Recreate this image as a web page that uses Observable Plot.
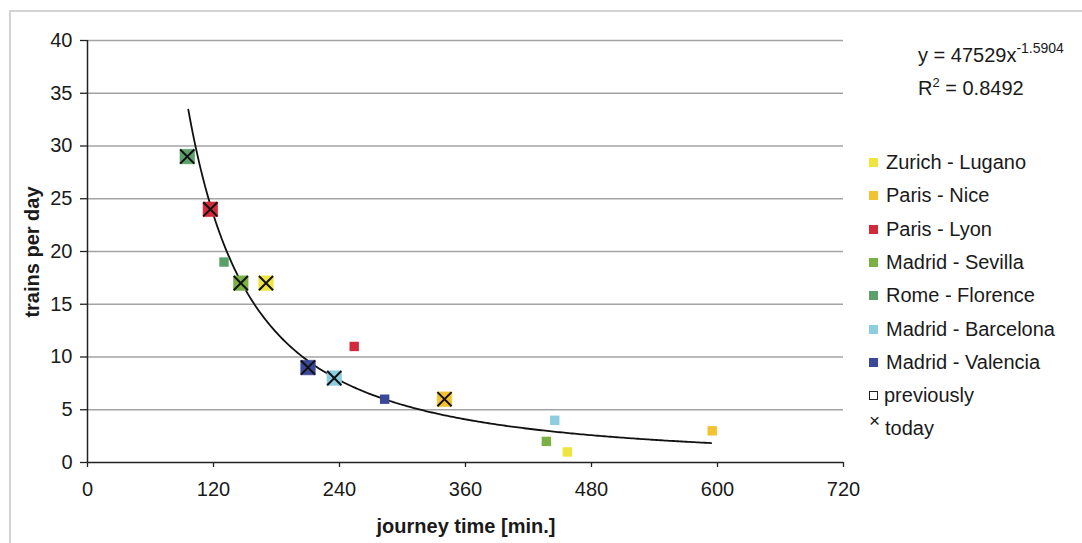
<!DOCTYPE html>
<html>
<head>
<meta charset="utf-8">
<script src="https://cdn.jsdelivr.net/npm/d3@7"></script>
<script src="https://cdn.jsdelivr.net/npm/@observablehq/plot@0.6"></script>
<style>
  html, body { margin: 0; padding: 0; background: #fff; }
  #wrap { position: relative; width: 1082px; height: 543px; overflow: hidden; font-family: "Liberation Sans", Arial, sans-serif; color: #1a1a1a; }
  #frame { position: absolute; left: 9px; top: 10px; width: 1100px; height: 560px; border: 2px solid #d4d4d4; box-sizing: border-box; }
  #chart { position: absolute; left: 0; top: 0; }
  .abs { position: absolute; white-space: nowrap; }
  .leg { position: absolute; left: 869px; font-size: 20px; line-height: 1; }
  .sw { position: absolute; left: 0; width: 9px; height: 9px; }
</style>
</head>
<body>
<div id="wrap">
  <div id="frame"></div>
  <div id="chart"></div>
</div>
<script>
// ---- data ----
const routes = ["Zurich - Lugano", "Paris - Nice", "Paris - Lyon", "Madrid - Sevilla", "Rome - Florence", "Madrid - Barcelona", "Madrid - Valencia"];
const routeColors = ["#eee53f", "#f2c230", "#d22a3a", "#7bb143", "#5b9f6b", "#8dcde0", "#3b4797"];
const previousTime = [457, 595, 254, 437, 130, 445, 283];
const previousTrains = [1, 3, 11, 2, 19, 4, 6];
const todayTime = [170, 340, 117, 146, 95, 235, 210];
const todayTrains = [17, 6, 24, 17, 29, 8, 9];
const xTicks = [0, 120, 240, 360, 480, 600, 720];
const yTicks = [0, 5, 10, 15, 20, 25, 30, 35, 40];
// power trendline as printed on the chart: y = a * x^b
const trendA = 47529;
const trendB = -1.5904;
const trendRange = [96, 595];
const trendR2 = 0.8492;

const previous = routes.map((r, i) => ({route: r, time: previousTime[i], trains: previousTrains[i]}));
const today = routes.map((r, i) => ({route: r, time: todayTime[i], trains: todayTrains[i]}));
const trend = d3.range(trendRange[0], trendRange[1] + 1, 2).map(x => ({time: x, trains: trendA * Math.pow(x, trendB)}));

const chart = Plot.plot({
  width: 1082,
  height: 543,
  marginLeft: 87,
  marginRight: 239,
  marginTop: 40,
  marginBottom: 81,
  style: {fontFamily: "'Liberation Sans', Arial, sans-serif", fontSize: "20px", color: "#1a1a1a", background: "transparent", overflow: "visible"},
  x: {domain: [0, 720], ticks: xTicks, label: null},
  y: {domain: [0, 40], ticks: yTicks, label: null},
  color: {domain: routes, range: routeColors},
  marks: [
    Plot.ruleY(yTicks.filter(d => d > 0), {stroke: "#a3a3a3", strokeWidth: 1.6}),
    Plot.axisX({ticks: xTicks, tickSize: 5, tickPadding: 14, label: null, stroke: "#222", strokeWidth: 1.3, fontSize: 20}),
    Plot.axisY({ticks: yTicks, tickSize: 7, tickPadding: 8, label: null, stroke: "#222", strokeWidth: 1.3, fontSize: 20}),
    Plot.ruleX([0], {stroke: "#222", strokeWidth: 1.5}),
    Plot.ruleY([0], {stroke: "#222", strokeWidth: 1.5}),
    Plot.line(trend, {x: "time", y: "trains", stroke: "#111", strokeWidth: 1.8}),
    Plot.dot(previous, {x: "time", y: "trains", symbol: "square", r: 5.3, fill: "route"}),
    Plot.dot(today, {x: "time", y: "trains", symbol: "square", r: 8.2, fill: "route", stroke: "route", strokeOpacity: 0.6, strokeWidth: 1}),
    Plot.dot(today, {x: "time", y: "trains", symbol: "times", r: 6.5, stroke: "#111", strokeWidth: 2})
  ]
});
document.getElementById("chart").appendChild(chart);

const wrap = document.getElementById("wrap");
function addText(html, left, top, style) {
  const d = document.createElement("div");
  d.className = "abs";
  d.innerHTML = html;
  d.style.left = left + "px";
  d.style.top = top + "px";
  Object.assign(d.style, style || {});
  wrap.appendChild(d);
  return d;
}
// axis titles
addText("journey time [min.]", 466, 515, {fontWeight: "bold", fontSize: "20px", transform: "translateX(-50%)"});
addText("trains per day", 32, 252, {fontWeight: "bold", fontSize: "20px", transform: "translate(-50%, -50%) rotate(-90deg)"});
// equation
addText(`y = ${trendA}x<sup style="font-size:14px;position:relative;top:-1px">${trendB}</sup>`, 918, 41, {fontSize: "20px"});
addText(`R<sup style="font-size:13px">2</sup> = ${trendR2}`, 918, 75, {fontSize: "20px"});
// legend
routes.forEach((r, i) => {
  const row = document.createElement("div");
  row.className = "leg";
  row.style.top = (152 + i * 33.3) + "px";
  row.innerHTML = `<span class="sw" style="background:${routeColors[i]};top:6px"></span><span style="margin-left:17px">${r}</span>`;
  wrap.appendChild(row);
});
const prevRow = document.createElement("div");
prevRow.className = "leg";
prevRow.style.top = (152 + 7 * 33.3) + "px";
prevRow.innerHTML = `<span class="sw" style="border:1.3px solid #222;box-sizing:border-box;top:6px"></span><span style="margin-left:15px">previously</span>`;
wrap.appendChild(prevRow);
const todayRow = document.createElement("div");
todayRow.className = "leg";
todayRow.style.top = (152 + 8 * 33.3) + "px";
todayRow.innerHTML = `<span style="position:absolute;left:0;top:-7px;font-size:19px">×</span><span style="margin-left:16px">today</span>`;
wrap.appendChild(todayRow);
</script>
</body>
</html>
